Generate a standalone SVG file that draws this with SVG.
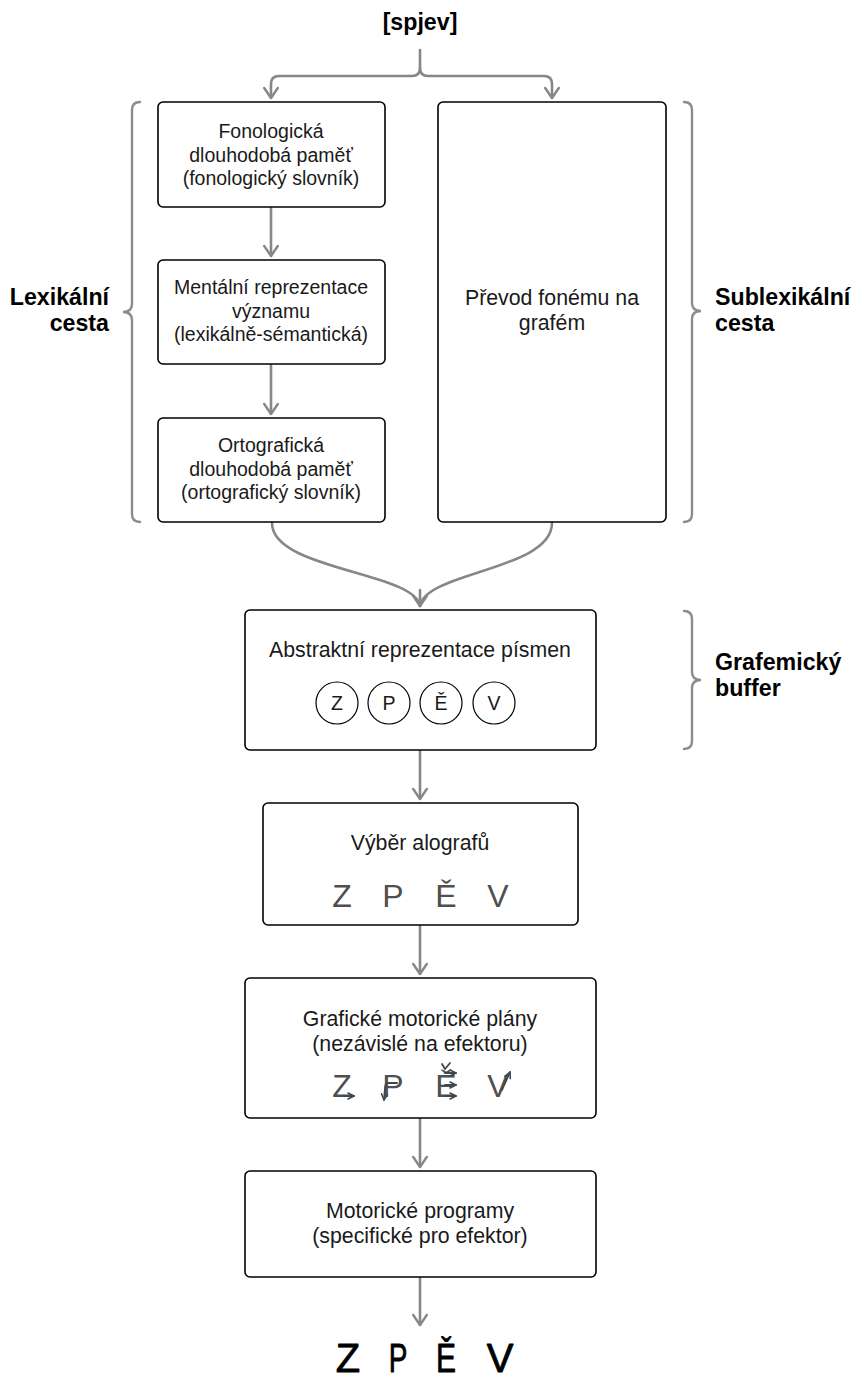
<svg xmlns="http://www.w3.org/2000/svg" width="854" height="1380" viewBox="0 0 854 1380">
  <style>
    .box { fill: #ffffff; stroke: #000000; stroke-width: 1.6; }
    .conn { fill: none; stroke: #878787; stroke-width: 2.6; stroke-linecap: round; stroke-linejoin: round; }
    .brace { fill: none; stroke: #8c8c8c; stroke-width: 2.4; stroke-linecap: round; }
    .t { font-family: "Liberation Sans", Arial, sans-serif; font-size: 21.3px; fill: #1a1a1a; text-anchor: middle; }
    .ts { font-size: 19.5px; }
    .lbl { font-family: "Liberation Sans", Arial, sans-serif; font-size: 23.2px; font-weight: bold; fill: #000000; }
    .circ { fill: #ffffff; stroke: #000000; stroke-width: 1.2; }
    .ct { font-family: "Liberation Sans", Arial, sans-serif; font-size: 19.5px; fill: #1a1a1a; text-anchor: middle; }
    .big { font-family: "Liberation Sans", Arial, sans-serif; font-size: 32px; fill: #4f4f4f; text-anchor: middle; }
    .stroke-arrow { fill: none; stroke: #3f4650; stroke-width: 1.8; stroke-linecap: round; stroke-linejoin: round; }
    .hand { font-family: "Liberation Sans", Arial, sans-serif; font-size: 40px; fill: #000000; stroke: #000000; stroke-width: 0.8; stroke-linejoin: round; text-anchor: middle; }
  </style>
  <defs>
    <marker id="open-arrow" viewBox="0 0 13 16" refX="12" refY="8" markerWidth="13" markerHeight="16" markerUnits="userSpaceOnUse" orient="auto">
      <path d="M2,1.2 L12,8 L2,14.8" fill="none" stroke="#878787" stroke-width="2.4" stroke-linecap="round" stroke-linejoin="round"/>
    </marker>
    <marker id="small-arrow" viewBox="0 0 8 8" refX="7" refY="4" markerWidth="8" markerHeight="8" markerUnits="userSpaceOnUse" orient="auto">
      <path d="M1,1 L7,4 L1,7" fill="none" stroke="#3f4650" stroke-width="1.6" stroke-linecap="round" stroke-linejoin="round"/>
    </marker>
  </defs>

  <!-- Input word -->
  <text id="input" class="lbl" x="420" y="30" text-anchor="middle">[spjev]</text>

  <!-- Connectors -->
  <g id="connectors">
    <path class="conn" d="M420,50 L420,68 Q420,76 412,76 L279,76 Q271,76 271,84 L271,98" marker-end="url(#open-arrow)"/>
    <path class="conn" d="M420,68 Q420,76 428,76 L544,76 Q552,76 552,84 L552,98" marker-end="url(#open-arrow)"/>
    <path class="conn" d="M271,208 L271,256" marker-end="url(#open-arrow)"/>
    <path class="conn" d="M271,365 L271,414" marker-end="url(#open-arrow)"/>
    <path class="conn" d="M272,523 C272,570 415,572 420,606"/>
    <path class="conn" d="M552,523 C552,570 425,572 420,606"/>
    <path class="conn" d="M420,590 L420,606" marker-end="url(#open-arrow)"/>
    <path class="conn" d="M420,751 L420,799" marker-end="url(#open-arrow)"/>
    <path class="conn" d="M420,926 L420,974" marker-end="url(#open-arrow)"/>
    <path class="conn" d="M420,1119 L420,1167" marker-end="url(#open-arrow)"/>
    <path class="conn" d="M420,1278 L420,1325" marker-end="url(#open-arrow)"/>
  </g>

  <!-- Braces and route labels -->
  <g id="lexical-route">
    <path class="brace" d="M140,102 Q132,102 132,110 L132,304 Q132,312 123,312 Q132,312 132,320 L132,514 Q132,522 140,522"/>
    <text class="lbl" x="109" y="305" text-anchor="end">Lexikální</text>
    <text class="lbl" x="109" y="331" text-anchor="end">cesta</text>
  </g>
  <g id="sublexical-route">
    <path class="brace" d="M684,102 Q692,102 692,110 L692,303 Q692,311 701,311 Q692,311 692,319 L692,514 Q692,522 684,522"/>
    <text class="lbl" x="715" y="305">Sublexikální</text>
    <text class="lbl" x="715" y="331">cesta</text>
  </g>
  <g id="graphemic-buffer">
    <path class="brace" d="M684,611 Q692,611 692,619 L692,672 Q692,680 701,680 Q692,680 692,688 L692,741 Q692,749 684,749"/>
    <text class="lbl" x="715" y="670">Grafemický</text>
    <text class="lbl" x="715" y="696">buffer</text>
  </g>

  <!-- Lexical route nodes -->
  <g id="phonological-lexicon">
    <rect class="box" x="158" y="102" width="227" height="105" rx="5"/>
    <text class="t ts" x="271" y="138">Fonologická</text>
    <text class="t ts" x="271" y="162">dlouhodobá paměť</text>
    <text class="t ts" x="271" y="185">(fonologický slovník)</text>
  </g>
  <g id="semantic-system">
    <rect class="box" x="158" y="260" width="227" height="104" rx="5"/>
    <text class="t ts" x="271" y="294">Mentální reprezentace</text>
    <text class="t ts" x="271" y="318">významu</text>
    <text class="t ts" x="271" y="341">(lexikálně-sémantická)</text>
  </g>
  <g id="orthographic-lexicon">
    <rect class="box" x="158" y="418" width="227" height="104" rx="5"/>
    <text class="t ts" x="271" y="452">Ortografická</text>
    <text class="t ts" x="271" y="476">dlouhodobá paměť</text>
    <text class="t ts" x="271" y="499">(ortografický slovník)</text>
  </g>

  <!-- Sublexical route node -->
  <g id="phoneme-grapheme">
    <rect class="box" x="438" y="102" width="228" height="420" rx="5"/>
    <text class="t" x="552" y="305">Převod fonému na</text>
    <text class="t" x="552" y="330">grafém</text>
  </g>

  <!-- Graphemic buffer -->
  <g id="abstract-letters">
    <rect class="box" x="245" y="610" width="351" height="140" rx="5"/>
    <text class="t" x="420" y="657">Abstraktní reprezentace písmen</text>
    <circle class="circ" cx="337" cy="703" r="21"/>
    <circle class="circ" cx="389" cy="703" r="21"/>
    <circle class="circ" cx="441" cy="703" r="21"/>
    <circle class="circ" cx="494" cy="703" r="21"/>
    <text class="ct" x="337" y="710">Z</text>
    <text class="ct" x="389" y="710">P</text>
    <text class="ct" x="441" y="710">Ě</text>
    <text class="ct" x="494" y="710">V</text>
  </g>

  <!-- Allograph selection -->
  <g id="allographs">
    <rect class="box" x="263" y="803" width="315" height="122" rx="5"/>
    <text class="t" x="420" y="850">Výběr alografů</text>
    <text class="big" x="342" y="907">Z</text>
    <text class="big" x="393" y="907">P</text>
    <text class="big" x="446" y="907">Ě</text>
    <text class="big" x="498" y="907">V</text>
  </g>

  <!-- Graphic motor plans -->
  <g id="motor-plans">
    <rect class="box" x="245" y="978" width="351" height="140" rx="5"/>
    <text class="t" x="420" y="1026">Grafické motorické plány</text>
    <text class="t" x="420" y="1051">(nezávislé na efektoru)</text>
    <text class="big" x="342" y="1097">Z</text>
    <text class="big" x="393" y="1097">P</text>
    <text class="big" x="446" y="1097">Ě</text>
    <text class="big" x="498" y="1097">V</text>
    <!-- stroke direction arrows -->
    <path class="stroke-arrow" d="M343,1096 L354,1096" marker-end="url(#small-arrow)"/>
    <path class="stroke-arrow" d="M397,1083 L389,1083 Q385,1083 385,1088 L384,1100" marker-end="url(#small-arrow)"/>
    <path class="stroke-arrow" d="M445,1073 L456,1073" marker-end="url(#small-arrow)"/>
    <path class="stroke-arrow" d="M445,1085 L456,1085" marker-end="url(#small-arrow)"/>
    <path class="stroke-arrow" d="M445,1096 L456,1096" marker-end="url(#small-arrow)"/>
    <path class="stroke-arrow" d="M442,1064 L445,1069 L450,1063"/>
    <path class="stroke-arrow" d="M502,1090 L510,1072" marker-end="url(#small-arrow)"/>
  </g>

  <!-- Motor programs -->
  <g id="motor-programs">
    <rect class="box" x="245" y="1171" width="351" height="106" rx="5"/>
    <text class="t" x="420" y="1218">Motorické programy</text>
    <text class="t" x="420" y="1243">(specifické pro efektor)</text>
  </g>

  <!-- Written output -->
  <g id="written-output">
    <text class="hand" x="348" y="1372">Z</text>
    <text class="hand" x="398" y="1372" transform="translate(398 0) scale(0.7 1) translate(-398 0)">P</text>
    <text class="hand" x="446" y="1372" transform="translate(446 0) scale(0.75 1) translate(-446 0)">Ě</text>
    <text class="hand" x="500" y="1372">V</text>
  </g>
</svg>
